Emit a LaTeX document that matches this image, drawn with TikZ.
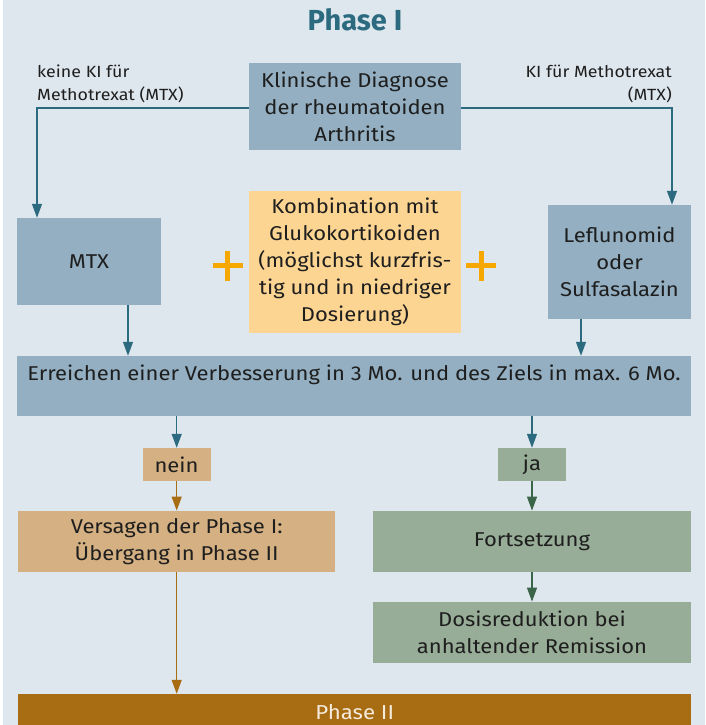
\documentclass[tikz,border=0pt]{standalone}
\usepackage{fontspec}
\setmainfont{Fira Sans}
\newfontfamily\bodyfont[FakeStretch=1.1]{Fira Sans}
\usetikzlibrary{arrows.meta}
\definecolor{bg}{HTML}{DFE7EE}
\definecolor{bluebox}{HTML}{93AFC1}
\definecolor{orangebox}{HTML}{FDD592}
\definecolor{tanbox}{HTML}{D4B082}
\definecolor{greenbox}{HTML}{97AD97}
\definecolor{brownbar}{HTML}{A86C12}
\definecolor{teal}{HTML}{2C6A80}
\definecolor{darkgreen}{HTML}{3A6548}
\definecolor{plusorange}{HTML}{F7A800}
\definecolor{txt}{HTML}{1E1E1E}
\definecolor{lighttxt}{HTML}{F5EBDD}
\tikzset{
  box/.style={rectangle, inner sep=0pt, align=center, text=txt,
    font=\bodyfont\fontsize{20}{27}\selectfont},
  lbl/.style={inner sep=0pt, text=txt, font=\bodyfont\fontsize{16.2}{23}\selectfont},
  arr/.style={draw=teal, line width=1.3pt, -{Triangle[length=14pt,width=10pt]}},
  arrbrown/.style={arr, draw=brownbar, -{Triangle[length=14pt,width=10pt]}},
  arrgreen/.style={arr, draw=darkgreen, -{Triangle[length=14pt,width=10pt]}},
  plussign/.style={draw=plusorange, line width=5pt},
  line/.style={draw=teal, line width=1.3pt}
}
\begin{document}
\begin{tikzpicture}[x=1pt,y=-1pt]
\useasboundingbox (0,0) rectangle (705,725);
\clip (0,0) rectangle (705,725);
\fill[white] (0,0) rectangle (705,725);
\fill[bg] (3,0) rectangle (705,725);

\node[text=teal, font=\fontsize{29}{32}\bfseries] (title) at (355,20) {Phase I};

\node[lbl, align=left, anchor=west] (lblL) at (37,83.5) {keine KI für\\Methotrexat (MTX)};
\node[lbl, align=right, anchor=east] (lblR) at (672,83.5) {KI für Methotrexat\\(MTX)};

\node[box, fill=bluebox, minimum width=212pt, minimum height=87pt] (diag) at (355,106.5)
  {Klinische Diagnose\\der rheumatoiden\\Arthritis};

\node[box, fill=bluebox, minimum width=144pt, minimum height=87pt] (mtx) at (89,261.5) {MTX};
\node[box, fill=orangebox, minimum width=212pt, minimum height=142pt] (komb) at (355,262)
  {Kombination mit\\Glukokortikoiden\\(möglichst kurzfris-\\tig und in niedriger\\Dosierung)};
\node[box, fill=bluebox, minimum width=143pt, minimum height=114pt] (lef) at (619.5,262)
  {Leflunomid\\oder\\Sulfasalazin};

\draw[plussign] (212.7,265.5) -- (242.7,265.5) (227.7,250.5) -- (227.7,280.5);
\draw[plussign] (466,265.5) -- (496,265.5) (481,250.5) -- (481,280.5);

\node[box, fill=bluebox, minimum width=674pt, minimum height=60pt] (err) at (354,386) {};
\node[box] (errt) at (354,375) {Erreichen einer Verbesserung in 3 Mo. und des Ziels in max. 6 Mo.};

\node[box, fill=tanbox, minimum width=68pt, minimum height=33pt] (nein) at (176.5,464.5) {nein};
\node[box, fill=greenbox, minimum width=68pt, minimum height=33pt] (ja) at (532,464.5) {ja};

\node[box, fill=tanbox, minimum width=317pt, minimum height=61pt] (vers) at (176.7,541.3)
  {Versagen der Phase I:\\Übergang in Phase II};
\node[box, fill=greenbox, minimum width=318pt, minimum height=61pt] (fort) at (532,541.3) {Fortsetzung};
\node[box, fill=greenbox, minimum width=318pt, minimum height=61pt] (dosis) at (532,632.3)
  {Dosisreduktion bei\\anhaltender Remission};

\node[box, fill=brownbar, text=lighttxt, minimum width=673.5pt, minimum height=36pt,
  font=\bodyfont\fontsize{20.2}{24}\selectfont] (phase2) at (354.7,712) {Phase II};

\coordinate (xa) at (37,0);
\coordinate (xb) at (672,0);
\coordinate (xc) at (128,0);
\coordinate (xd) at (581,0);
\coordinate (xe) at (176.7,0);
\coordinate (xf) at (532,0);

\draw[arr] (diag.west |- 0,108) -| (mtx.north -| xa);
\draw[arr] (diag.east |- 0,108) -| (lef.north -| xb);
\draw[arr] (mtx.south -| xc) -- (err.north -| xc);
\draw[arr] (lef.south -| xd) -- (err.north -| xd);
\draw[arr] (err.south -| xe) -- (nein.north -| xe);
\draw[arr] (err.south -| xf) -- (ja.north -| xf);
\draw[arrbrown] (nein.south -| xe) -- (vers.north -| xe);
\draw[arrgreen] (ja.south -| xf) -- (fort.north -| xf);
\draw[arrgreen] (fort.south -| xf) -- (dosis.north -| xf);
\draw[arrbrown] (vers.south -| xe) -- (phase2.north -| xe);
\end{tikzpicture}
\end{document}
